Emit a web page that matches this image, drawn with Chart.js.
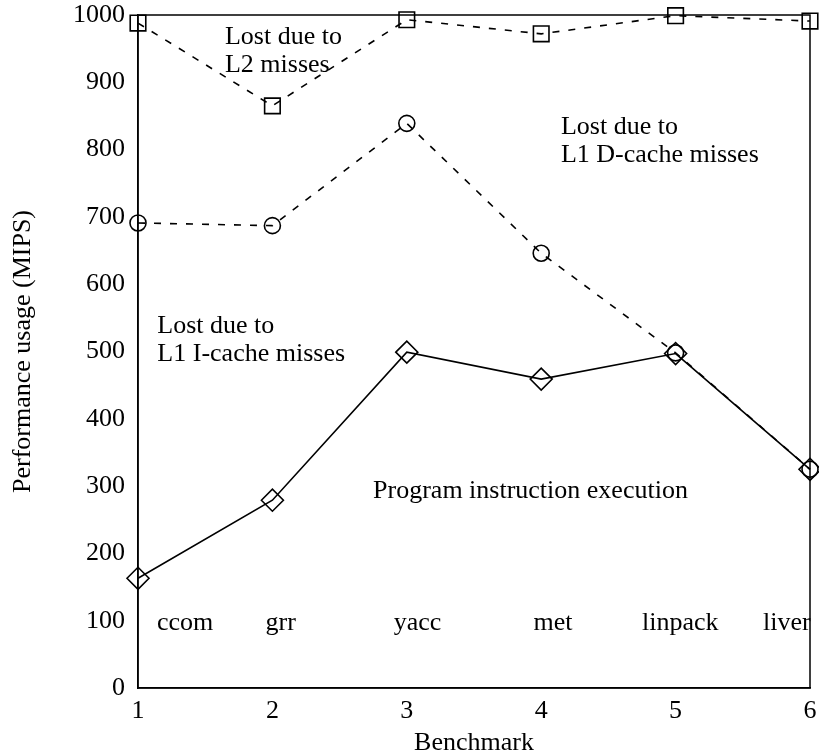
<!DOCTYPE html>
<html>
<head>
<meta charset="utf-8">
<script src="https://cdn.jsdelivr.net/npm/chart.js@4"></script>
<style>
  html, body { margin: 0; padding: 0; background: #fff; }
  #wrap { width: 819px; height: 756px; }
</style>
</head>
<body>
<div id="wrap"><canvas id="perfChart" width="819" height="756"></canvas></div>
<script>
const benchmarkIds = [1, 2, 3, 4, 5, 6];
const benchmarkNames = ['ccom', 'grr', 'yacc', 'met', 'linpack', 'liver'];

// MIPS levels
const programExec = [163, 279, 499, 459, 497, 325];
const l1dLevel = [691, 687, 839, 646, 498, 325];
const l2Level = [988, 865, 993, 972, 999, 991];

const yTicks = [0, 100, 200, 300, 400, 500, 600, 700, 800, 900, 1000];

// where the text notes sit, in axis units
const nameX = [1.141, 1.949, 2.902, 3.943, 4.750, 5.650];
const nameY = 97;
const notes = [
    { lines: ['Lost due to', 'L2 misses'], x: 1.647, y: 967 },
    { lines: ['Lost due to', 'L1 D-cache misses'], x: 4.147, y: 834 },
    { lines: ['Lost due to', 'L1 I-cache misses'], x: 1.144, y: 538 },
    { lines: ['Program instruction execution'], x: 2.749, y: 293 }
];

const FONT = '"Liberation Serif", "Times New Roman", serif';

const toPoints = vals => vals.map((v, i) => ({ x: benchmarkIds[i], y: v }));

const framePlugin = {
    id: 'frame',
    afterDatasetsDraw(chart) {
        const { ctx, chartArea: a } = chart;
        ctx.save();
        ctx.strokeStyle = '#000';
        ctx.lineWidth = 1.5;
        ctx.strokeRect(a.left, a.top, a.right - a.left, a.bottom - a.top);
        ctx.restore();
    }
};

const notesPlugin = {
    id: 'notes',
    afterDraw(chart) {
        const { ctx } = chart;
        const xs = chart.scales.x, ys = chart.scales.y;
        ctx.save();
        ctx.fillStyle = '#000';
        ctx.font = '26px ' + FONT;
        ctx.textAlign = 'left';
        ctx.textBaseline = 'middle';
        notes.forEach(n => {
            const px = xs.getPixelForValue(n.x);
            const py = ys.getPixelForValue(n.y);
            n.lines.forEach((t, i) => ctx.fillText(t, px, py + i * 28));
        });
        benchmarkNames.forEach((name, i) => {
            ctx.fillText(name, xs.getPixelForValue(nameX[i]), ys.getPixelForValue(nameY));
        });
        ctx.restore();
    }
};

const lineStyle = {
    borderColor: '#000',
    backgroundColor: 'rgba(0,0,0,0)',
    pointBorderColor: '#000',
    pointBackgroundColor: 'rgba(0,0,0,0)',
    borderWidth: 1.6,
    pointBorderWidth: 1.6,
    tension: 0,
    clip: false
};

new Chart(document.getElementById('perfChart').getContext('2d'), {
    type: 'line',
    data: {
        datasets: [
            Object.assign({}, lineStyle, {
                label: 'Lost due to L2 misses',
                data: toPoints(l2Level),
                borderDash: [7, 9],
                pointStyle: 'rect',
                pointRadius: 11
            }),
            Object.assign({}, lineStyle, {
                label: 'Lost due to L1 D-cache misses',
                data: toPoints(l1dLevel),
                borderDash: [7, 9],
                pointStyle: 'circle',
                pointRadius: 8
            }),
            Object.assign({}, lineStyle, {
                label: 'Program instruction execution',
                data: toPoints(programExec),
                pointStyle: 'rectRot',
                pointRadius: 11
            })
        ]
    },
    options: {
        responsive: false,
        animation: false,
        layout: { autoPadding: false, padding: { top: 15, right: 9, left: 0, bottom: 0 } },
        plugins: {
            legend: { display: false },
            tooltip: { enabled: false }
        },
        scales: {
            x: {
                type: 'linear',
                min: 1,
                max: 6,
                grid: { display: false, drawTicks: false },
                border: { display: true, color: '#000', width: 1.5 },
                afterBuildTicks: s => { s.ticks = benchmarkIds.map(v => ({ value: v })); },
                afterFit: s => { s.height = 68; s.paddingLeft = 0; s.paddingRight = 0; },
                ticks: { color: '#000', padding: 8, maxRotation: 0, font: { family: FONT, size: 26 } },
                title: {
                    display: true,
                    text: 'Benchmark',
                    color: '#000',
                    padding: 0,
                    font: { family: FONT, size: 26, lineHeight: 1 }
                }
            },
            y: {
                min: 0,
                max: 1000,
                grid: { display: false, drawTicks: false },
                border: { display: true, color: '#000', width: 1.5 },
                afterBuildTicks: s => { s.ticks = yTicks.map(v => ({ value: v })); },
                afterFit: s => { s.width = 138; s.paddingTop = 0; s.paddingBottom = 0; },
                ticks: {
                    color: '#000',
                    padding: 13,
                    font: { family: FONT, size: 26 },
                    callback: v => String(v)
                },
                title: {
                    display: true,
                    text: 'Performance usage (MIPS)',
                    color: '#000',
                    padding: { top: 10, bottom: 0 },
                    font: { family: FONT, size: 26, lineHeight: 1 }
                }
            }
        }
    },
    plugins: [framePlugin, notesPlugin]
});
</script>
</body>
</html>
